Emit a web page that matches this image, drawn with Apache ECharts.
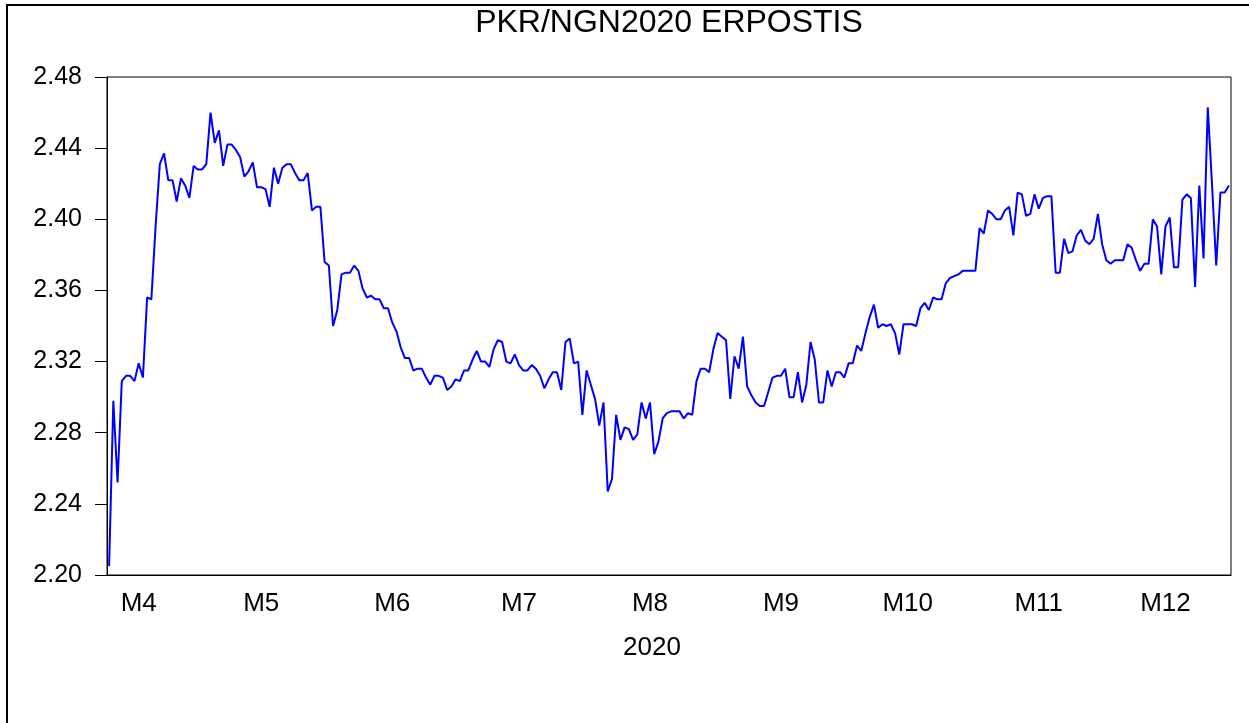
<!DOCTYPE html>
<html>
<head>
<meta charset="utf-8">
<title>PKR/NGN2020 ERPOSTIS</title>
<script src="https://cdn.jsdelivr.net/npm/echarts@6/dist/echarts.min.js"></script>
<style>
html, body { margin: 0; padding: 0; background: #fff; }
#chart { width: 1249px; height: 723px; }
</style>
</head>
<body>
<div id="chart"></div>
<script>
// daily series, 2020-04-10 .. 2020-12-31
var startDay = [2020, 3, 10];
var rate = [
  2.205, 2.298, 2.252, 2.309, 2.312, 2.312, 2.309, 2.319, 2.311, 2.356,
  2.355, 2.396, 2.431, 2.437, 2.422, 2.422, 2.410, 2.423, 2.419, 2.412,
  2.430, 2.428, 2.428, 2.431, 2.460, 2.443, 2.450, 2.430, 2.442, 2.442,
  2.439, 2.435, 2.424, 2.427, 2.432, 2.418, 2.418, 2.417, 2.407, 2.429,
  2.420, 2.429, 2.431, 2.431, 2.426, 2.422, 2.422, 2.426, 2.405, 2.407,
  2.407, 2.376, 2.374, 2.340, 2.349,
  2.369, 2.370, 2.370, 2.374, 2.371, 2.361, 2.356, 2.357, 2.355, 2.355,
  2.350, 2.350, 2.342, 2.337, 2.328, 2.322, 2.322, 2.315, 2.316, 2.316,
  2.311, 2.307, 2.312, 2.312, 2.311, 2.304, 2.306, 2.310, 2.309, 2.315,
  2.315, 2.321, 2.326, 2.320, 2.320, 2.317, 2.327, 2.332, 2.331, 2.320,
  2.319, 2.324, 2.318, 2.315, 2.315, 2.318, 2.316, 2.312, 2.305, 2.310,
  2.314, 2.314, 2.304, 2.331, 2.333, 2.319, 2.320, 2.290, 2.315, 2.307,
  2.299, 2.284,
  2.297, 2.247, 2.254, 2.290, 2.276, 2.283, 2.282, 2.276, 2.279, 2.297,
  2.288, 2.297, 2.268, 2.275, 2.288, 2.291, 2.292, 2.292, 2.292, 2.288,
  2.291, 2.290, 2.309, 2.316, 2.316, 2.314, 2.327, 2.336, 2.334, 2.332,
  2.299, 2.323, 2.316, 2.334, 2.306, 2.301, 2.297, 2.295, 2.295, 2.303,
  2.311, 2.312, 2.312, 2.316, 2.300, 2.300, 2.314, 2.297, 2.307, 2.331,
  2.321, 2.297, 2.297, 2.315, 2.306, 2.314,
  2.314, 2.311, 2.319, 2.319, 2.329, 2.326, 2.336, 2.345, 2.352, 2.339,
  2.341, 2.340, 2.341, 2.336, 2.324, 2.341, 2.341, 2.341, 2.340, 2.350,
  2.353, 2.349, 2.356, 2.355, 2.355, 2.364, 2.367, 2.368, 2.369, 2.371,
  2.371, 2.371, 2.371, 2.395, 2.392, 2.405, 2.403, 2.400, 2.400, 2.405,
  2.407, 2.391, 2.415, 2.414, 2.402, 2.403, 2.414, 2.406, 2.412, 2.413,
  2.413, 2.370, 2.370, 2.389, 2.381, 2.382, 2.391, 2.394, 2.388, 2.386,
  2.389, 2.403, 2.386, 2.377, 2.375, 2.377, 2.377, 2.377, 2.386, 2.384,
  2.377, 2.371, 2.375, 2.375, 2.400, 2.396, 2.369, 2.396, 2.401, 2.373,
  2.373, 2.411, 2.414, 2.412, 2.362, 2.419, 2.378, 2.463, 2.420, 2.374,
  2.415, 2.415, 2.419
];
var yTicks = ['2.20', '2.24', '2.28', '2.32', '2.36', '2.40', '2.44', '2.48'];
var yearLabel = '2020';
var chartTitle = 'PKR/NGN2020 ERPOSTIS';

// one category per calendar day
var days = [];
for (var i = 0; i < rate.length; i++) {
  var d = new Date(Date.UTC(startDay[0], startDay[1], startDay[2] + i));
  days.push(d.toISOString().slice(0, 10));
}

function monthOf(v) { return +v.slice(5, 7); }
function dayOf(v) { return +v.slice(8, 10); }

var font = 'Liberation Sans, Arial, sans-serif';
var chartDom = document.getElementById('chart');
var myChart = echarts.init(chartDom);
var option;

option = {
  animation: false,
  backgroundColor: '#fff',
  grid: {
    left: 107, top: 77, right: 18, bottom: 148,
    show: true, borderColor: '#000', borderWidth: 1
  },
  graphic: [
    { type: 'rect', silent: true, shape: { x: 7, y: 5, width: 1300, height: 800 },
      style: { fill: 'none', stroke: '#000', lineWidth: 2 } },
    { type: 'text', x: 669, y: 23,
      style: { text: chartTitle, font: '32px ' + font, fill: '#000', textAlign: 'center', textVerticalAlign: 'middle' } },
    { type: 'text', x: 652, y: 648,
      style: { text: yearLabel, font: '26px ' + font, fill: '#000', textAlign: 'center', textVerticalAlign: 'middle' } }
  ],
  xAxis: {
    type: 'category',
    data: days,
    boundaryGap: true,
    axisLine: { lineStyle: { color: '#000', width: 1 } },
    axisTick: {
      length: 7,
      lineStyle: { color: '#000' },
      interval: function (idx, v) { return dayOf(v) === 1; }
    },
    axisLabel: {
      margin: 16,
      color: '#000',
      fontFamily: font,
      fontSize: 26,
      interval: function (idx, v) {
        var m = monthOf(v), dd = dayOf(v);
        return (m === 4 && dd === 17) || (m > 4 && dd === 16);
      },
      formatter: function (v) { return 'M' + monthOf(v); }
    },
    splitLine: { show: false }
  },
  yAxis: {
    type: 'value',
    min: 2.20, max: 2.48, interval: 0.04,
    axisLine: { show: true, lineStyle: { color: '#000', width: 1 } },
    axisTick: { show: true, length: 12, lineStyle: { color: '#000' } },
    axisLabel: {
      margin: 25,
      color: '#000',
      fontFamily: font,
      fontSize: 25,
      padding: [0, 0, 11, 0],
      formatter: function (v) { return yTicks[Math.round((v - 2.20) / 0.04)]; }
    },
    splitLine: { show: false }
  },
  series: [{
    type: 'line',
    data: rate,
    showSymbol: false,
    lineStyle: { color: '#0000ff', width: 2 }
  }]
};

myChart.setOption(option);
</script>
</body>
</html>
